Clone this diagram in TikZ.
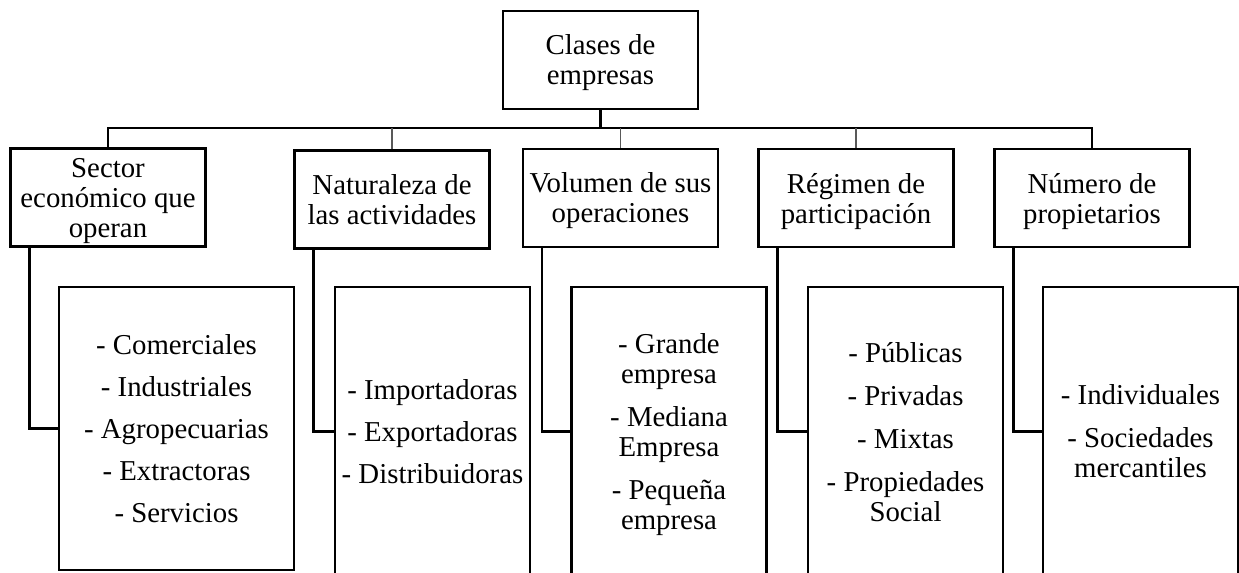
\documentclass[tikz,border=0pt]{standalone}
\usepackage{fontspec}
\setmainfont{Liberation Serif}
\usetikzlibrary{calc}

\begin{document}
\begin{tikzpicture}[x=0.5pt,y=-0.5pt,
		box/.style={draw,line width=1.2pt,align=center,inner sep=1pt,text depth=0pt,minimum width=97.5pt,minimum height=49pt,font=\fontsize{14.4}{15}\selectfont},
		list/.style={box,minimum height=144.5pt},
		link/.style={line width=1.2pt},
		tick/.style={line width=0.6pt,black!65}]
		\clip (0,0) rectangle (1239,573);
		\node[box] (T) at (600.5,60) {Clases de\\empresas};
		\node[box] (H1) at (108,197.5) {Sector\\económico que\\operan};
		\node[box] (H2) at (392,199.5) {Naturaleza de\\las actividades};
		\node[box] (H3) at (620.5,198) {Volumen de sus\\operaciones};
		\node[box] (H4) at (856,198) {Régimen de\\participación};
		\node[box] (H5) at (1092,198) {Número de\\propietarios};
		\node[list,minimum width=117.5pt,minimum height=141.5pt] (D1) at (176.5,428.5) {- Comerciales\\[6pt]- Industriales\\[6pt]- Agropecuarias\\[6pt]- Extractoras\\[6pt]- Servicios};
		\node[list] (D2) at (432.5,431.5) {- Importadoras\\[6pt]- Exportadoras\\[6pt]- Distribuidoras};
		\node[list] (D3) at (669,431.5) {- Grande\\empresa\\[6.5pt]- Mediana\\Empresa\\[6.5pt]- Pequeña\\empresa};
		\node[list] (D4) at (905.5,431.5) {- Públicas\\[6.5pt]- Privadas\\[6.5pt]- Mixtas\\[6.5pt]- Propiedades\\Social};
		\node[list] (D5) at (1140.5,431.5) {- Individuales\\[6.5pt]- Sociedades\\mercantiles};
		\coordinate (bus) at (600,128);
		\draw[link] (T.south) -- (T.south |- bus);
		\draw[link] (H1.north) -- (H1.north |- bus) -- (H5.north |- bus) -- (H5.north);
		\foreach \n in {2,3,4}
			\draw[tick] (H\n.north) -- (H\n.north |- bus);
		\foreach \n in {1,...,5}
			\draw[link] ($(H\n.south west)+(20,0)$) |- (D\n.west);
	\end{tikzpicture}
\end{document}
